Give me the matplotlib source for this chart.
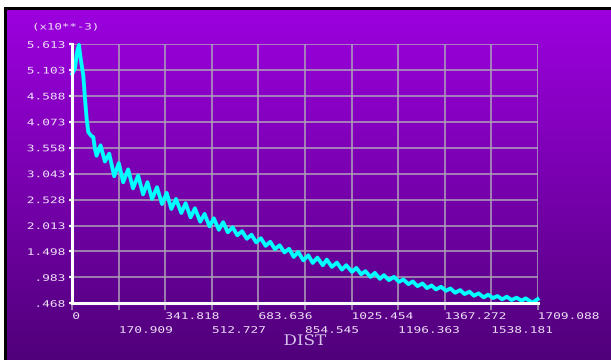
import numpy as np
import matplotlib
matplotlib.use("Agg")
import matplotlib.pyplot as plt
from matplotlib.patheffects import AbstractPathEffect
from matplotlib.transforms import Affine2D
from matplotlib.patches import Rectangle
from matplotlib.colors import LinearSegmentedColormap

# ---------------- data ----------------
dist = [0, 9.9, 16, 20, 24.5, 30.6, 40.3, 46.5, 52.6, 58.7, 68.5, 77, 83, 89,
        103.8, 119.7, 135.6, 153.8, 170.9, 186.8, 205, 223, 241.7, 260, 275.9,
        292.9, 311, 329.5, 346.6, 363.7, 380.8, 400.3, 416.1, 434.4, 450.2,
        469.8, 485.7, 503.9, 519.8, 538, 554, 571, 589, 606, 623.5, 641, 658,
        675, 692.5, 710, 727, 744, 761.5, 779, 796, 813, 829.8, 848.3, 866.8,
        882.9, 900.1, 919.9, 934.7, 953.2, 971.7, 990.2, 1006.2, 1027.2,
        1043.2, 1060.5, 1076.5, 1095, 1111, 1129.5, 1144.3, 1162.8, 1181.3,
        1199.8, 1215.8, 1234.3, 1250.4, 1267.6, 1286.2, 1302.2, 1319.5,
        1335.5, 1354, 1372.5, 1388.5, 1405.8, 1424.3, 1440.3, 1458.8, 1474.9,
        1492.1, 1510.6, 1526.7, 1545.2, 1561.2, 1578.5, 1595.7, 1613, 1631.5,
        1650, 1664.8, 1689.5, 1709]
value = [5.03, 5.135, 5.40, 5.52, 5.60, 5.33, 5.00, 4.54, 4.14, 3.87, 3.80,
         3.77, 3.54, 3.40, 3.605, 3.286, 3.44, 2.993, 3.252, 2.873, 3.127,
         2.753, 3.007, 2.633, 2.873, 2.54, 2.773, 2.44, 2.66, 2.343, 2.54,
         2.263, 2.455, 2.175, 2.355, 2.09, 2.243, 1.997, 2.155, 1.93, 2.078,
         1.88, 1.977, 1.82, 1.90, 1.75, 1.83, 1.68, 1.76, 1.61, 1.69, 1.545,
         1.62, 1.48, 1.55, 1.39, 1.487, 1.322, 1.421, 1.270, 1.375, 1.224,
         1.336, 1.191, 1.276, 1.138, 1.224, 1.092, 1.171, 1.046, 1.105, 0.993,
         1.072, 0.954, 1.026, 0.928, 0.993, 0.895, 0.941, 0.849, 0.902, 0.809,
         0.862, 0.770, 0.822, 0.744, 0.796, 0.717, 0.763, 0.678, 0.730, 0.652,
         0.698, 0.619, 0.665, 0.586, 0.638, 0.573, 0.612, 0.547, 0.599, 0.533,
         0.579, 0.520, 0.566, 0.481, 0.55]

xticks_row1 = [0, 341.818, 683.636, 1025.454, 1367.272, 1709.088]
xlabels_row1 = ["0", "341.818", "683.636", "1025.454", "1367.272", "1709.088"]
xticks_row2 = [170.909, 512.727, 854.545, 1196.363, 1538.181]
xlabels_row2 = ["170.909", "512.727", "854.545", "1196.363", "1538.181"]
yticks = [0.468, 0.983, 1.498, 2.013, 2.528, 3.043, 3.558, 4.073, 4.588, 5.103, 5.613]
ylabels = [".468", ".983", "1.498", "2.013", "2.528", "3.043", "3.558",
           "4.073", "4.588", "5.103", "5.613"]


# ---------------- helpers ----------------
class HStretch(AbstractPathEffect):
    """Widen glyphs horizontally (imitates the wide bitmap font)."""
    def __init__(self, sx, anchor="left"):
        super().__init__()
        self.sx = sx
        self.anchor = anchor

    def draw_path(self, renderer, gc, tpath, affine, rgbFace=None):
        if self.anchor == "right":
            x0 = tpath.get_extents().x1
        elif self.anchor == "center":
            e = tpath.get_extents()
            x0 = 0.5 * (e.x0 + e.x1)
        else:
            x0 = 0.0
        t = Affine2D().translate(-x0, 0).scale(self.sx, 1).translate(x0, 0)
        renderer.draw_path(gc, tpath, t + affine, rgbFace)


W, H = 611, 360
fig = plt.figure(figsize=(W / 100, H / 100), dpi=100)
fig.patch.set_facecolor("white")

# background frame with purple gradient
bg = fig.add_axes([0, 0, 1, 1], zorder=-10)
bg.axis("off")
bg.add_patch(Rectangle((4, 7), W - 4, H - 7, facecolor="black",
                       edgecolor="none", zorder=1))
cmap = LinearSegmentedColormap.from_list("pg", ["#9c00de", "#7800ae", "#50007a"])
grad = np.linspace(0, 1, 256).reshape(-1, 1)
bg.imshow(grad, cmap=cmap, aspect="auto", extent=(7, W, H, 10),
          interpolation="bilinear", zorder=2)
bg.set_xlim(0, W)
bg.set_ylim(H, 0)

# main axes
L, R, T, B = 72.3, 537.7, 44.3, 303.3
ax = fig.add_axes([L / W, 1 - B / H, (R - L) / W, (B - T) / H])
ax.set_facecolor("none")
ax.set_xlim(0, 1709.088)
ax.set_ylim(0.468, 5.613)

gridc = "#ae a2b8".replace(" ", "")
ax.plot(dist, value, color="#00ffff", lw=2.8, solid_joinstyle="round",
        zorder=3, clip_on=False)

ax.set_xticks(xticks_row1, labels=xlabels_row1)
ax.set_xticks(xticks_row2, labels=xlabels_row2, minor=True)
ax.set_yticks(yticks, labels=ylabels)
ax.grid(True, which="both", color=gridc, lw=1.1, zorder=1)

for s in ["top", "right"]:
    ax.spines[s].set_visible(False)
for s in ["left", "bottom"]:
    ax.spines[s].set_color("white")
    ax.spines[s].set_linewidth(2.2)
    ax.spines[s].set_zorder(4)

labc = "#efe2f7"
tickfont = "DejaVu Sans Mono"
ax.tick_params(axis="x", which="both", direction="out", length=5, width=1.1,
               color=gridc, labelsize=6.5, labelcolor=labc)
ax.tick_params(axis="x", which="major", pad=1.2)
ax.tick_params(axis="x", which="minor", pad=11.2)
ax.tick_params(axis="y", direction="out", length=2.2, width=1.6,
               color="white", labelsize=6.5, labelcolor=labc, pad=3.2)

for lbl in ax.get_xticklabels(which="both"):
    lbl.set_horizontalalignment("left")
    lbl.set_fontfamily(tickfont)
    lbl.set_path_effects([HStretch(1.42, "left")])
for lbl in ax.get_yticklabels():
    lbl.set_fontfamily(tickfont)
    lbl.set_path_effects([HStretch(1.42, "right")])

ax.set_xlabel("DIST", fontfamily="DejaVu Serif", fontsize=10.5,
              color="#d4c2ea", va="center",
              path_effects=[HStretch(1.15, "center")])
ax.xaxis.set_label_coords(0.5, (B - 341) / (B - T))

fig.text(32 / W, 1 - 27 / H, "(x10**-3)", fontfamily=tickfont, fontsize=6.3,
         color=labc, ha="left", va="center",
         path_effects=[HStretch(1.42, "left")])

fig.savefig("out.png", dpi=100)
